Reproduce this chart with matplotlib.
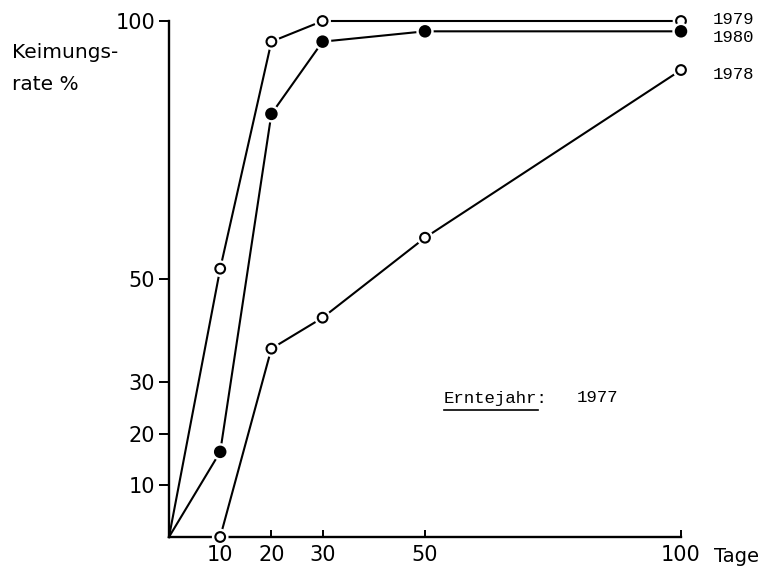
import matplotlib.pyplot as plt
import matplotlib.patheffects as pe
from matplotlib.lines import Line2D

# Keimungsrate (%) nach Tagen, je Erntejahr
tage_1979 = [0, 10, 20, 30, 100]
rate_1979 = [0, 52, 96, 100, 100]

tage_1980 = [0, 10, 20, 30, 50, 100]
rate_1980 = [0, 16.5, 82, 96, 98, 98]

tage_1978 = [10, 20, 30, 50, 100]
rate_1978 = [0, 36.5, 42.5, 58, 90.5]

x_ticks = [10, 20, 30, 50, 100]
y_ticks = [10, 20, 30, 50, 100]

fig = plt.figure(figsize=(7.6, 5.74), dpi=100)
ax = fig.add_axes([169/760, 37/574, 512/760, 516/574])

halo = [pe.withStroke(linewidth=5, foreground='white')]

def kurve(x, y, filled):
    ax.plot(x, y, color='black', lw=1.5, clip_on=False, zorder=2)
    # Punkte ohne Nullpunkt, mit weissem Rand gegen die Linie
    if x[0] == 0:
        x, y = x[1:], y[1:]
    ax.plot(x, y, ls='none', marker='o', ms=7.5 if filled else 7,
            mfc='black' if filled else 'white', mec='black', mew=1.5,
            clip_on=False, zorder=3, path_effects=halo)

kurve(tage_1979, rate_1979, False)
kurve(tage_1980, rate_1980, True)
kurve(tage_1978, rate_1978, False)

ax.set_xlim(0, 100)
ax.set_ylim(0, 100)
for s in ['top', 'right']:
    ax.spines[s].set_visible(False)
for s in ['left', 'bottom']:
    ax.spines[s].set_linewidth(1.7)

ax.set_xticks(x_ticks)
ax.set_yticks(y_ticks)
ax.tick_params(axis='x', direction='in', length=5, width=1.4, pad=6, labelsize=15)
ax.tick_params(axis='y', direction='out', length=7, width=1.4, pad=3, labelsize=15)
ax.set_yticks([100], minor=True)
ax.tick_params(axis='y', which='minor', direction='inout', length=10, width=1.4)

# Achsenbeschriftung
fig.text(12/760, 1 - 53/574, 'Keimungs-', fontsize=14.5, va='center', ha='left')
fig.text(12/760, 1 - 85/574, 'rate %', fontsize=14.5, va='center', ha='left')
fig.text(714/760, 1 - 556/574, 'Tage', fontsize=14, va='center', ha='left')

# Jahreszahlen rechts
mono = 'Liberation Mono'
fig.text(713/760, 1 - 19/574, '1979', family=mono, fontsize=12.5, va='center')
fig.text(713/760, 1 - 38/574, '1980', family=mono, fontsize=12.5, va='center')
fig.text(713/760, 1 - 74/574, '1978', family=mono, fontsize=12.5, va='center')

fig.text(444/760, 1 - 398/574, 'Erntejahr:', family=mono, fontsize=12.5, va='center')
fig.text(577/760, 1 - 398/574, '1977', family=mono, fontsize=12.5, va='center')
fig.add_artist(Line2D([444/760, 538/760], [1 - 410/574, 1 - 410/574],
                      color='black', lw=1.2))

fig.savefig('out.png', dpi=100)
